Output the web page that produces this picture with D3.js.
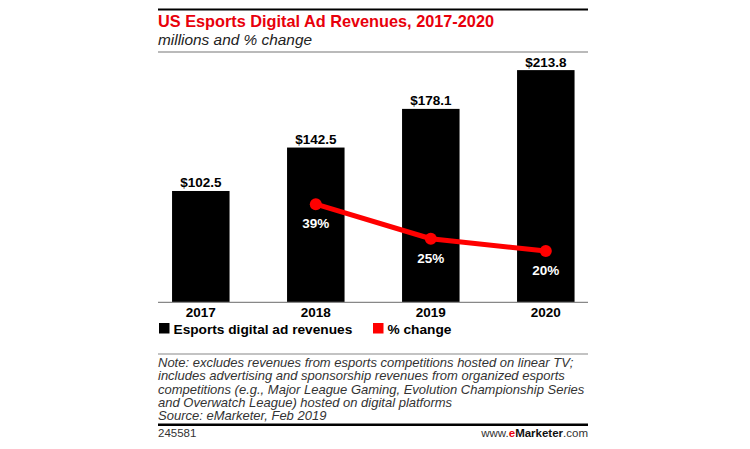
<!DOCTYPE html>
<html><head><meta charset="utf-8">
<script src="https://cdn.jsdelivr.net/npm/d3@7/dist/d3.min.js"></script>
<style>
html,body{margin:0;padding:0;background:#fff;}
svg{display:block;font-family:"Liberation Sans",Arial,sans-serif;}
</style></head><body>
<svg id="chart" width="750" height="449"></svg>
<script>
const years = ["2017","2018","2019","2020"];
const revenues = [102.5,142.5,178.1,213.8];
const revenueLabels = ["$102.5","$142.5","$178.1","$213.8"];
const pctYears = ["2018","2019","2020"];
const pctChange = [39,25,20];
const pctLabels = ["39%","25%","20%"];
const title = "US Esports Digital Ad Revenues, 2017-2020";
const subtitle = "millions and % change";
const legendItems = ["Esports digital ad revenues","% change"];
const noteLines = [
 "Note: excludes revenues from esports competitions hosted on linear TV;",
 "includes advertising and sponsorship revenues from organized esports",
 "competitions (e.g., Major League Gaming, Evolution Championship Series",
 "and Overwatch League) hosted on digital platforms",
 "Source: eMarketer, Feb 2019"
];
const chartId = "245581";

const svg = d3.select("#chart");
const L = 158, R = 588;

svg.append("rect").attr("x",L).attr("y",8.5).attr("width",R-L).attr("height",2).attr("fill","#000");
svg.append("text").attr("x",L).attr("y",26.5).attr("fill","#e8000b")
  .attr("font-weight","bold").attr("font-size",16.3).text(title);
svg.append("text").attr("x",L).attr("y",45).attr("fill","#222")
  .attr("font-style","italic").attr("font-size",15.4).text(subtitle);
svg.append("rect").attr("x",L).attr("y",51.5).attr("width",R-L).attr("height",1).attr("fill","#777");

const x = d3.scaleBand().domain(years).range([143.3,603.3]).paddingInner(0.5).paddingOuter(0.25);
const y = d3.scaleLinear().domain([0,250]).range([302.3,302.3-250*1.086]);
const y2 = d3.scaleLinear().domain([0,40]).range([300.5,300.5-40*2.47]);

svg.append("g").selectAll("rect").data(revenues).join("rect")
  .attr("x",(d,i)=>x(years[i])).attr("y",d=>y(d))
  .attr("width",x.bandwidth()).attr("height",d=>y(0)-y(d)).attr("fill","#000");
svg.append("g").selectAll("text").data(revenues).join("text")
  .attr("x",(d,i)=>x(years[i])+x.bandwidth()/2).attr("y",d=>y(d)-3.5)
  .attr("text-anchor","middle").attr("font-weight","bold").attr("font-size",13.5).attr("fill","#000")
  .text((d,i)=>revenueLabels[i]);

const xAxis = d3.axisBottom(x).tickSize(0).tickPadding(0);
const ag = svg.append("g").attr("transform",`translate(0,${y(0)})`).call(xAxis);
ag.select(".domain").remove();
ag.append("line").attr("x1",L).attr("x2",R).attr("y1",0).attr("y2",0).attr("stroke","#888").attr("stroke-width",1.3);
ag.selectAll(".tick text").attr("dy",0).attr("y",15).attr("font-size",13.5).attr("font-weight","bold")
  .attr("fill","#000").attr("font-family","Liberation Sans, Arial, sans-serif");

const cx = (d,i)=>x(pctYears[i])+x.bandwidth()/2;
const line = d3.line().x(cx).y(d=>y2(d));
svg.append("path").datum(pctChange).attr("d",line).attr("fill","none")
  .attr("stroke","#ff0000").attr("stroke-width",5).attr("stroke-linejoin","round");
svg.append("g").selectAll("circle").data(pctChange).join("circle")
  .attr("cx",cx).attr("cy",d=>y2(d)).attr("r",6).attr("fill","#ff0000");
svg.append("g").selectAll("text").data(pctChange).join("text")
  .attr("x",cx).attr("y",d=>y2(d)+24).attr("text-anchor","middle")
  .attr("font-weight","bold").attr("font-size",13.5).attr("fill","#fff").text((d,i)=>pctLabels[i]);

const lg = svg.append("g");
lg.append("rect").attr("x",159).attr("y",323).attr("width",10.5).attr("height",10.5).attr("fill","#000");
lg.append("text").attr("x",173.5).attr("y",333.5).attr("font-weight","bold").attr("font-size",13.7).text(legendItems[0]);
lg.append("rect").attr("x",373).attr("y",323).attr("width",10.5).attr("height",10.5).attr("fill","#ff0000");
lg.append("text").attr("x",387.5).attr("y",333.5).attr("font-weight","bold").attr("font-size",13.7).text(legendItems[1]);

svg.append("rect").attr("x",L).attr("y",353.5).attr("width",R-L).attr("height",1).attr("fill","#888");

svg.append("g").selectAll("text").data(noteLines).join("text")
  .attr("x",L).attr("y",(d,i)=>367+i*13.3).attr("font-style","italic").attr("font-size",13)
  .attr("fill","#333").text(d=>d);

svg.append("rect").attr("x",L).attr("y",423.5).attr("width",R-L).attr("height",2.5).attr("fill","#000");
svg.append("text").attr("x",L).attr("y",437).attr("font-size",11.5).attr("fill","#333").text(chartId);
const wt = svg.append("text").attr("x",R).attr("y",437).attr("text-anchor","end").attr("font-size",11.5).attr("fill","#333");
wt.append("tspan").text("www.");
wt.append("tspan").attr("fill","#e8000b").attr("font-weight","bold").text("e");
wt.append("tspan").attr("font-weight","bold").attr("fill","#111").text("Marketer");
wt.append("tspan").text(".com");
</script>
</body></html>
